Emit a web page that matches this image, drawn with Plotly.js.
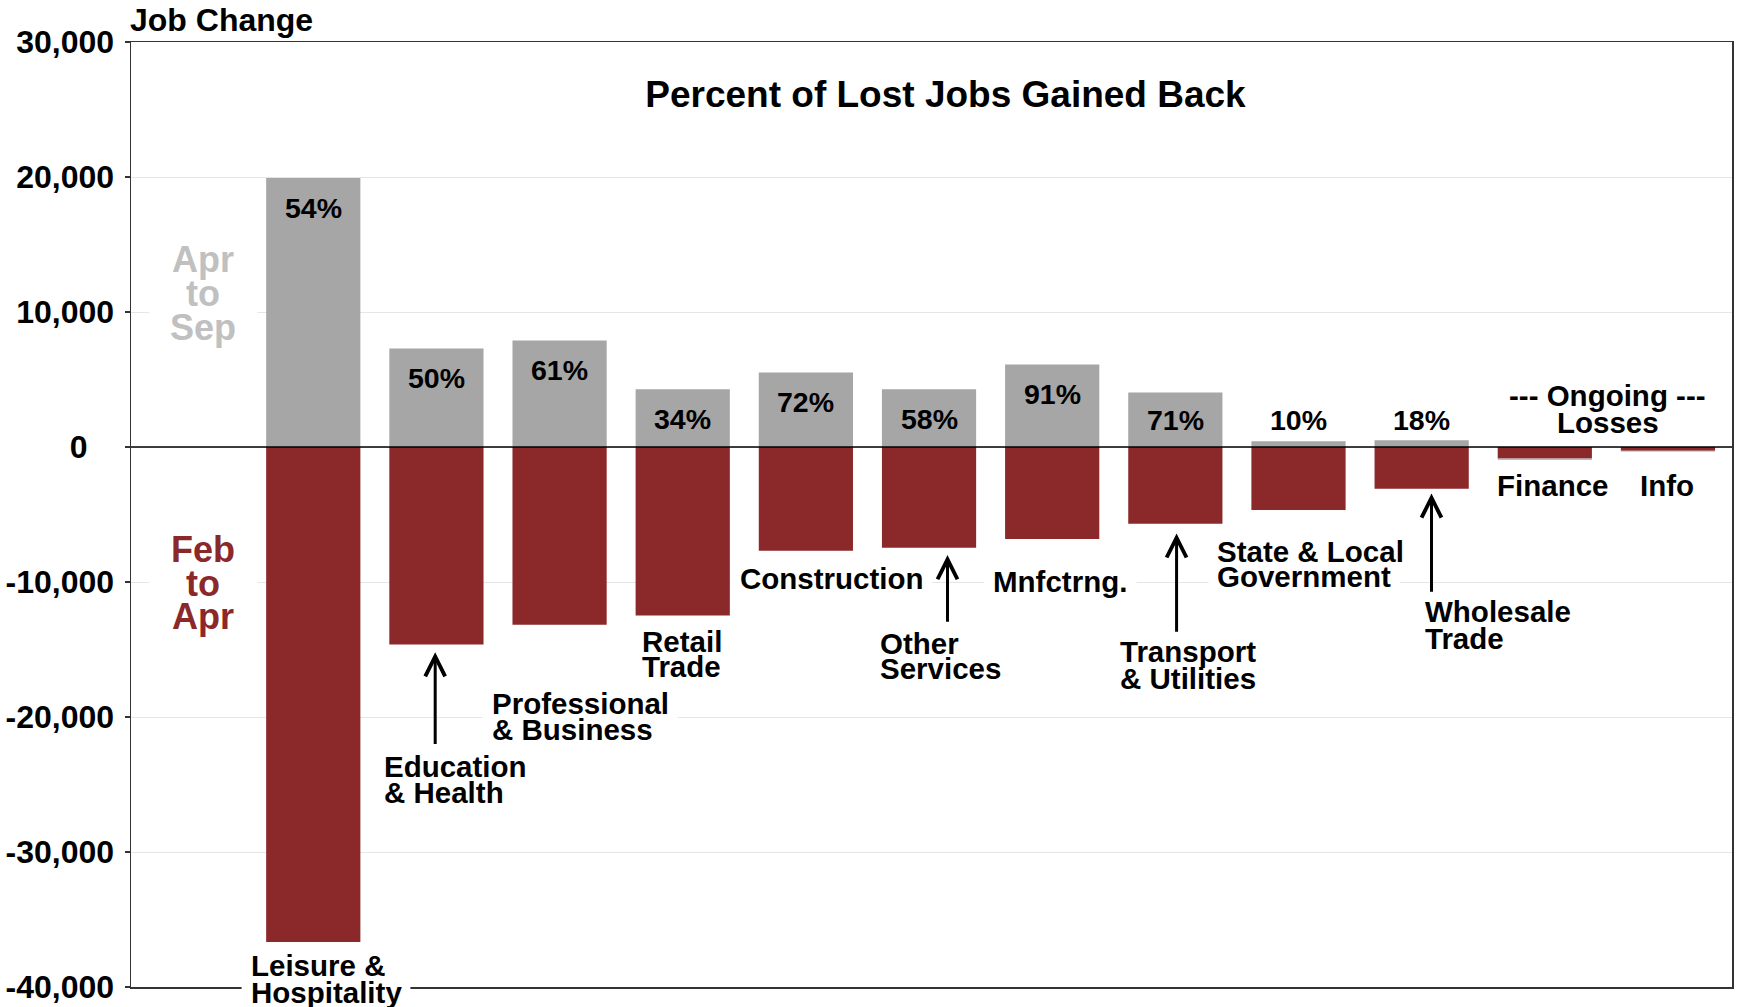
<!DOCTYPE html>
<html>
<head>
<meta charset="utf-8">
<script src="https://cdn.plot.ly/plotly-3.0.1.min.js"></script>
<style>
  html, body { margin: 0; padding: 0; background: #fff; }
  #chart { width: 1739px; height: 1007px; }
</style>
</head>
<body>
<div id="chart"></div>
<script>
// ---------------- DATA ----------------
const categories = [
  "Leisure & Hospitality", "Education & Health", "Professional & Business",
  "Retail Trade", "Construction", "Other Services", "Manufacturing",
  "Transport & Utilities", "State & Local Government", "Wholesale Trade",
  "Finance", "Info"
];
// Job change Feb to Apr (losses)
const febToApr = [-36660, -14630, -13160, -12490, -7690, -7470, -6820, -5690, -4660, -3100, -860, -270];
// Job change Apr to Sep (gained back)
const aprToSep = [19930, 7300, 7890, 4270, 5520, 4270, 6110, 4040, 420, 500, -80, -70];
// Percent of lost jobs gained back
const pctBack = ["54%", "50%", "61%", "34%", "72%", "58%", "91%", "71%", "10%", "18%", "", ""];
// Category label lines as printed on the chart
const labelLines = [
  ["Leisure &", "Hospitality"],
  ["Education", "& Health"],
  ["Professional", "& Business"],
  ["Retail", "Trade"],
  ["Construction"],
  ["Other", "Services"],
  ["Mnfctrng."],
  ["Transport", "& Utilities"],
  ["State & Local", "Government"],
  ["Wholesale", "Trade"],
  ["Finance"],
  ["Info"]
];
const yTickVals = [30000, 20000, 10000, 0, -10000, -20000, -30000, -40000];
const yTickText = ["30,000", "20,000", "10,000", "0\u00a0\u00a0\u00a0", "-10,000", "-20,000", "-30,000", "-40,000"];
const periodGain = ["Apr", "to", "Sep"];
const periodLoss = ["Feb", "to", "Apr"];
const ongoingText = ["--- Ongoing ---", "Losses"];

// ---------------- STYLE / PLACEMENT ----------------
const RED = "#8B282A";
const GREY = "#A6A6A6";
const LIGHT = "#C0C0C0";
const FONT = "Liberation Sans, Arial, Helvetica, sans-serif";
const W = 1739, H = 1007;
const M = {l: 131, r: 7, t: 42, b: 20};
const X_RANGE = [-1.48, 11.52];
const Y_RANGE = [-40000, 30000];
const plotW = W - M.l - M.r, plotH = H - M.t - M.b;
const pxPerX = plotW / (X_RANGE[1] - X_RANGE[0]);
const unitsPerPxY = (Y_RANGE[1] - Y_RANGE[0]) / plotH;
const LAB_SIZE = 29.5;

// label placement (x in axis units, y per line in axis units; yshift px for line below range; bg per line)
const labelPlace = [
  {x: -0.525, anchor: "left", y: [-38430, -40000], shift: [0, -5.4], bg: [false, true]},
  {x: 0.555,  anchor: "left", y: [-23650, -25620], bg: [false, false]},
  {x: 1.432, anchor: "left", y: [-18965, -20940], bg: [true, false]},
  {x: 2.655,  anchor: "left", y: [-14410, -16260], bg: [false, false]},
  {x: 3.445, anchor: "left", y: [-9730], bg: [true]},
  {x: 4.588, anchor: "left", y: [-14530, -16380], bg: [false, false]},
  {x: 5.505, anchor: "left", y: [-9980], bg: [true]},
  {x: 6.536, anchor: "left", y: [-15150, -17120], bg: [false, false]},
  {x: 7.326, anchor: "left", y: [-7760, -9610], bg: [false, true]},
  {x: 9.011, anchor: "left", y: [-12195, -14160], bg: [false, false]},
  {x: 10.06, anchor: "center", y: [-2830], bg: [false]},
  {x: 10.993, anchor: "center", y: [-2830], bg: [false]}
];
// arrows: x, tip y, tail y
const arrows = [
  {x: 0.99, tip: -15200, tail: -22120},
  {x: 5.15, tip: -8000, tail: -13050},
  {x: 7.01, tip: -6400, tail: -13790},
  {x: 9.08, tip: -3440, tail: -10840}
];

// text measuring for white label backgrounds
const ctx = document.createElement("canvas").getContext("2d");
function textWidth(t, size) {
  ctx.font = "bold " + size + "px 'Liberation Sans', Arial, sans-serif";
  return ctx.measureText(t).width;
}
const PADX = 7, HALFH = 18;
const bgShapes = [];
function addBg(xLeftUnits, widthPx, yUnits, yshiftPx) {
  const x0 = xLeftUnits - PADX / pxPerX;
  const x1 = xLeftUnits + (widthPx + PADX + 4) / pxPerX;
  const yCenterPx = M.t + (Y_RANGE[1] - yUnits) / unitsPerPxY - (yshiftPx || 0);
  const toPaper = py => (H - M.b - py) / plotH;
  bgShapes.push({
    type: "rect", xref: "x", yref: "paper", x0: x0, x1: x1,
    y0: toPaper(yCenterPx + HALFH), y1: toPaper(yCenterPx - HALFH),
    fillcolor: "#ffffff", line: {width: 0}, layer: "above"
  });
}

// ---------------- TRACES ----------------
const traces = [
  {
    type: "bar", x: categories, y: febToApr, name: "Feb to Apr",
    marker: {color: RED, line: {width: 0}}, hoverinfo: "x+y"
  },
  {
    type: "bar", x: categories, y: aprToSep, name: "Apr to Sep",
    marker: {color: GREY, line: {width: 0}}, hoverinfo: "x+y"
  }
];

// ---------------- ANNOTATIONS ----------------
const txtAnns = [];
const labFont = {family: FONT, size: LAB_SIZE, color: "#000", weight: "bold"};

labelLines.forEach((lines, i) => {
  const p = labelPlace[i];
  lines.forEach((t, j) => {
    const ys = p.shift ? p.shift[j] : 0;
    if (p.bg[j]) addBg(p.x, textWidth(t, LAB_SIZE), p.y[j], ys);
    txtAnns.push({
      xref: "x", yref: "y", x: p.x, y: p.y[j], yshift: ys, text: t, showarrow: false,
      xanchor: p.anchor, yanchor: "middle", font: labFont
    });
  });
});

// percent labels
const pctFont = {family: FONT, size: 28.5, color: "#000", weight: "bold"};
pctBack.forEach((t, i) => {
  if (!t) return;
  txtAnns.push({
    xref: "x", yref: "y", x: i, y: Math.max(aprToSep[i] - 2200, 2000),
    text: t, showarrow: false, xanchor: "center", yanchor: "middle",
    font: pctFont
  });
});

// period labels on the left
const gainY = [13925, 11340, 8870];
const lossY = [-7560, -10100, -12565];
const perFont = {family: FONT, size: 36, weight: "bold"};
const PER_X = -0.892, PER_BG_W = 90;
periodGain.forEach((t, j) => {
  if (j === 2) addBg(PER_X - (PER_BG_W / 2 + 2) / pxPerX, PER_BG_W, gainY[j], 0);
  txtAnns.push({xref: "x", yref: "y", x: PER_X, y: gainY[j], text: t, showarrow: false,
    xanchor: "center", yanchor: "middle", font: Object.assign({}, perFont, {color: LIGHT})});
});
periodLoss.forEach((t, j) => {
  if (j === 1) addBg(PER_X - (PER_BG_W / 2 + 2) / pxPerX, PER_BG_W, lossY[j], 0);
  txtAnns.push({xref: "x", yref: "y", x: PER_X, y: lossY[j], text: t, showarrow: false,
    xanchor: "center", yanchor: "middle", font: Object.assign({}, perFont, {color: RED})});
});

// ongoing losses
const ongY = [3800, 1850];
ongoingText.forEach((t, j) => {
  txtAnns.push({xref: "x", yref: "y", x: 10.51, y: ongY[j], text: t, showarrow: false,
    xanchor: "center", yanchor: "middle", font: labFont});
});

// arrows
const arrowAnns = arrows.map(a => ({
  xref: "x", yref: "y", axref: "x", ayref: "y",
  x: a.x, y: a.tip, ax: a.x, ay: a.tail, text: "", showarrow: true,
  arrowhead: 5, arrowsize: 1.3, arrowwidth: 3, arrowcolor: "#000", standoff: 0, startstandoff: 0
}));

// y-axis header
const headerAnn = {
  xref: "paper", yref: "paper", x: -0.002, y: 1.023, xanchor: "left", yanchor: "middle",
  text: "Job Change", showarrow: false, font: {family: FONT, size: 32, color: "#000", weight: "bold"}
};

const layout = {
  width: W, height: H,
  paper_bgcolor: "#fff", plot_bgcolor: "#fff",
  margin: {l: M.l, r: M.r, t: M.t, b: M.b, pad: 0},
  barmode: "relative",
  bargap: 0.235,
  showlegend: false,
  font: {family: FONT, color: "#000"},
  title: {
    text: "Percent of Lost Jobs Gained Back",
    font: {family: FONT, size: 37, color: "#000", weight: "bold"},
    xref: "container", yref: "container", x: 0.5437, y: 0.9067,
    xanchor: "center", yanchor: "middle"
  },
  xaxis: {
    type: "category", categoryorder: "array", categoryarray: categories,
    range: X_RANGE, showticklabels: false, ticks: "",
    showgrid: false, zeroline: false,
    showline: true, mirror: true, linecolor: "#333", linewidth: 1.5
  },
  yaxis: {
    range: Y_RANGE, tickvals: yTickVals, ticktext: yTickText,
    tickfont: {family: FONT, size: 32, color: "#000", weight: "bold"},
    ticks: "outside", ticklen: 5, tickwidth: 1.5, tickcolor: "#333",
    ticklabelstandoff: 4,
    showgrid: true, gridcolor: "#E6E6E6", gridwidth: 1,
    zeroline: false,
    showline: true, mirror: true, linecolor: "#333", linewidth: 1.5
  },
  shapes: [
    {type: "line", xref: "paper", x0: 0, x1: 1, yref: "y", y0: 0, y1: 0,
     line: {color: "#000", width: 1.5}, layer: "above"}
  ].concat(bgShapes),
  annotations: [].concat(arrowAnns, txtAnns, [headerAnn])
};

Plotly.newPlot("chart", traces, layout, {displayModeBar: false, staticPlot: true});
</script>
</body>
</html>
